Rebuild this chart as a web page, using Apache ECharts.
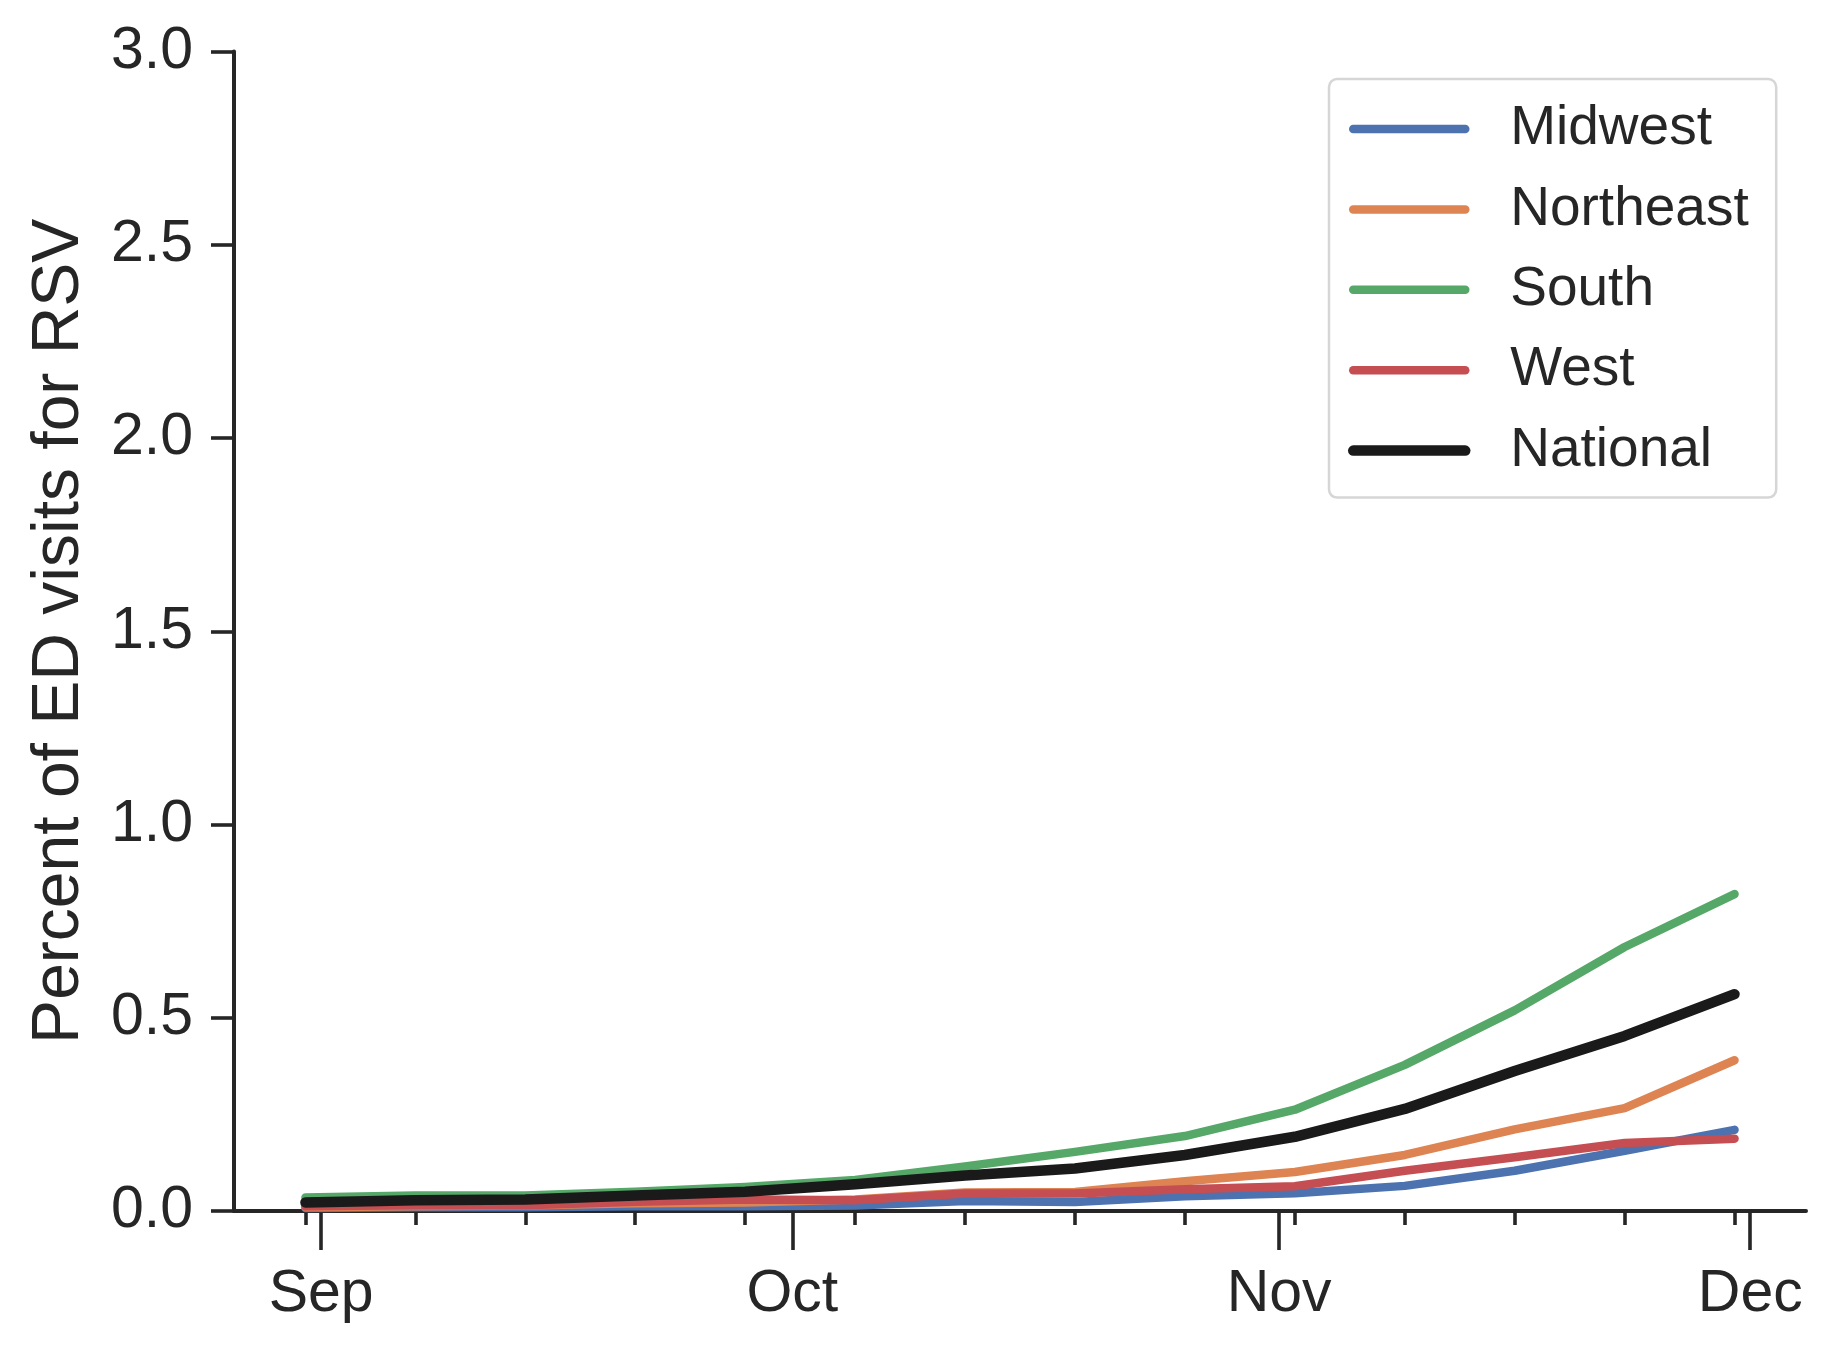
<!DOCTYPE html>
<html>
<head>
<meta charset="utf-8">
<script src="https://cdn.jsdelivr.net/npm/echarts@6/dist/echarts.min.js"></script>
<style>
html, body { margin: 0; padding: 0; background: #ffffff; }
#chart { width: 1834px; height: 1354px; }
</style>
</head>
<body>
<div id="chart"></div>
<script>
// ---- data ----
const weekStarts = ['2025-08-31', '2025-09-07', '2025-09-14', '2025-09-21', '2025-09-28',
  '2025-10-05', '2025-10-12', '2025-10-19', '2025-10-26', '2025-11-02',
  '2025-11-09', '2025-11-16', '2025-11-23', '2025-11-30'];
const midwest   = [0.008, 0.010, 0.010, 0.012, 0.012, 0.014, 0.026, 0.023, 0.038, 0.046, 0.065, 0.104, 0.156, 0.210];
const northeast = [0.010, 0.012, 0.014, 0.020, 0.022, 0.030, 0.048, 0.049, 0.077, 0.101, 0.145, 0.211, 0.266, 0.390];
const south     = [0.035, 0.040, 0.040, 0.050, 0.062, 0.080, 0.115, 0.153, 0.194, 0.262, 0.378, 0.519, 0.683, 0.820];
const west      = [0.012, 0.015, 0.015, 0.024, 0.030, 0.028, 0.045, 0.045, 0.056, 0.064, 0.104, 0.139, 0.176, 0.187];
const national  = [0.022, 0.028, 0.030, 0.040, 0.050, 0.069, 0.092, 0.110, 0.145, 0.192, 0.264, 0.362, 0.453, 0.561];
const monthTickDates  = ['2025-09-01', '2025-10-01', '2025-11-01', '2025-12-01'];
const monthTickLabels = ['Sep', 'Oct', 'Nov', 'Dec'];
const yTickLabels = ['0.0', '0.5', '1.0', '1.5', '2.0', '2.5', '3.0'];

// ---- helpers ----
const DAY = 86400000;
const t0 = Date.parse(weekStarts[0]);
const toDay = d => Math.round((Date.parse(d) - t0) / DAY);
const weekDays = weekStarts.map(toDay);
const monthDays = monthTickDates.map(toDay);
const span = weekDays[weekDays.length - 1] - weekDays[0];
const xMin = weekDays[0] - span * 0.05;
const xMax = weekDays[weekDays.length - 1] + span * 0.05;

const FONT = "'Liberation Sans', Arial, Helvetica, sans-serif";
const AX = '#262626';

function mk(name, vals, color, width) {
  return {
    name: name,
    type: 'line',
    xAxisIndex: 0,
    yAxisIndex: 0,
    data: weekDays.map((d, i) => [d, vals[i]]),
    symbol: 'none',
    showSymbol: false,
    lineStyle: { color: color, width: width, cap: 'round', join: 'round' },
    itemStyle: { color: color },
    emphasis: { disabled: true },
    animation: false
  };
}

const chart = echarts.init(document.getElementById('chart'), null, { renderer: 'canvas' });
chart.setOption({
  backgroundColor: '#ffffff',
  animation: false,
  textStyle: { fontFamily: FONT },
  grid: { left: 234, right: 28, top: 51.5, bottom: 143, containLabel: false, outerBoundsMode: 'none' },
  xAxis: [
    {
      type: 'value', min: xMin, max: xMax, position: 'bottom',
      axisLine: { show: true, onZero: false, lineStyle: { color: AX, width: 4 } },
      axisTick: { show: true, customValues: monthDays, length: 39, lineStyle: { color: AX, width: 3.6 } },
      axisLabel: {
        show: true, customValues: monthDays, margin: 54, fontSize: 59, color: AX, fontFamily: FONT,
        formatter: v => monthTickLabels[monthDays.indexOf(Math.round(v))]
      },
      splitLine: { show: false }
    },
    {
      type: 'value', min: xMin, max: xMax, position: 'bottom', gridIndex: 0,
      axisLine: { show: false, onZero: false },
      axisTick: { show: true, customValues: weekDays, length: 14, lineStyle: { color: AX, width: 3.6 } },
      axisLabel: { show: false },
      splitLine: { show: false }
    }
  ],
  yAxis: {
    type: 'value', min: 0, max: 3, interval: 0.5,
    axisLine: { show: true, onZero: false, lineStyle: { color: AX, width: 4 } },
    axisTick: { show: true, length: 23, lineStyle: { color: AX, width: 3.6 } },
    axisLabel: {
      margin: 41, fontSize: 59, color: AX, fontFamily: FONT,
      formatter: v => yTickLabels[Math.round(v / 0.5)]
    },
    splitLine: { show: false },
    name: 'Percent of ED visits for RSV',
    nameLocation: 'middle',
    nameGap: 141,
    nameTextStyle: { fontSize: 66, color: AX, fontFamily: FONT }
  },
  legend: {
    orient: 'vertical',
    left: 1329, top: 79,
    padding: [22.5, 27.5, 19.5, 19],
    itemWidth: 112, itemHeight: 14, itemGap: 25.4,
    borderColor: '#d6d6d6', borderWidth: 2.5, borderRadius: 8,
    backgroundColor: '#ffffff',
    selectedMode: false,
    textStyle: { fontSize: 55, color: AX, fontFamily: FONT, lineHeight: 55, padding: [0, 0, 0, 40] },
    itemStyle: { opacity: 0 },
    data: [
      { name: 'Midwest',   lineStyle: { width: 8.5, cap: 'round' } },
      { name: 'Northeast', lineStyle: { width: 8.5, cap: 'round' } },
      { name: 'South',     lineStyle: { width: 8.5, cap: 'round' } },
      { name: 'West',      lineStyle: { width: 8.5, cap: 'round' } },
      { name: 'National',  lineStyle: { width: 10.5, cap: 'round' } }
    ]
  },
  series: [
    mk('Midwest', midwest, '#4C72B0', 8.5),
    mk('Northeast', northeast, '#DD8452', 8.5),
    mk('South', south, '#55A868', 8.5),
    mk('West', west, '#C44E52', 8.5),
    mk('National', national, '#1a1a1a', 10.5)
  ]
});
</script>
</body>
</html>
